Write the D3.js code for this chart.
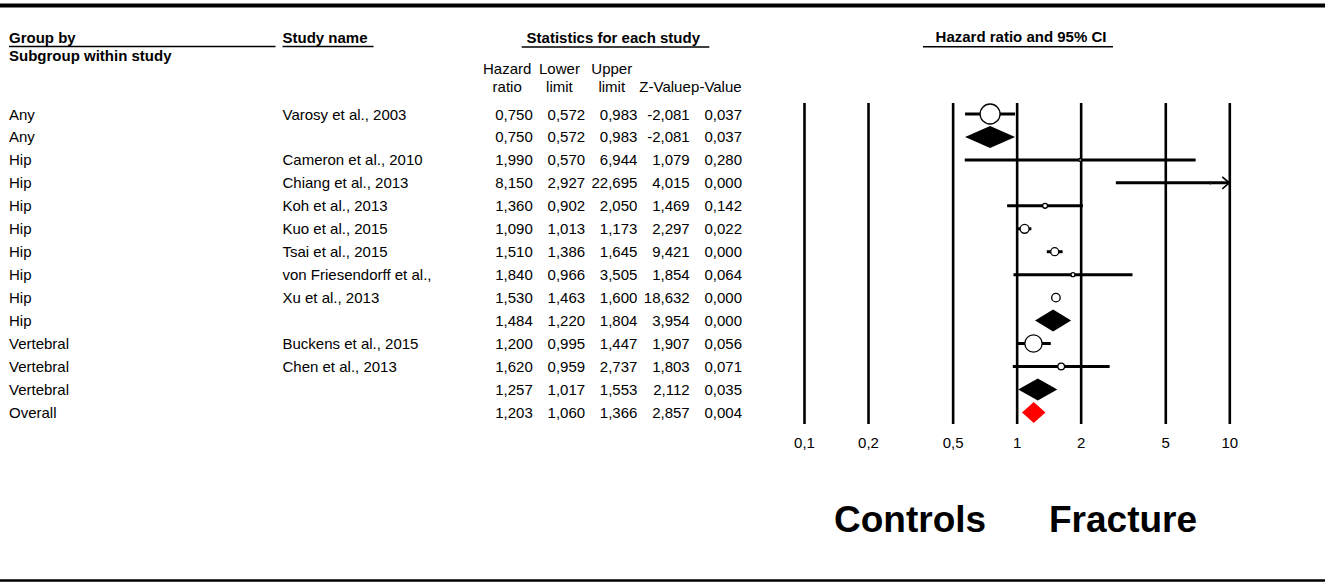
<!DOCTYPE html>
<html>
<head>
<meta charset="utf-8">
<script src="https://cdn.jsdelivr.net/npm/d3@7"></script>
<style>
  html, body { margin: 0; padding: 0; background: #fff; }
  svg { display: block; font-family: "Liberation Sans", Arial, sans-serif; }
</style>
</head>
<body>
<svg id="chart" width="1325" height="582"></svg>
<script>
// ---------- data ----------
const groups = ["Any","Any","Hip","Hip","Hip","Hip","Hip","Hip","Hip","Hip","Vertebral","Vertebral","Vertebral","Overall"];
const studies = ["Varosy et al., 2003","","Cameron et al., 2010","Chiang et al., 2013","Koh et al., 2013","Kuo et al., 2015","Tsai et al., 2015","von Friesendorff et al.,","Xu et al., 2013","","Buckens et al., 2015","Chen et al., 2013","",""];
const rowTypes = ["study","subgroup","study","study","study","study","study","study","study","subgroup","study","study","subgroup","overall"];
const hazard = [0.750,0.750,1.990,8.150,1.360,1.090,1.510,1.840,1.530,1.484,1.200,1.620,1.257,1.203];
const lower  = [0.572,0.572,0.570,2.927,0.902,1.013,1.386,0.966,1.463,1.220,0.995,0.959,1.017,1.060];
const upper  = [0.983,0.983,6.944,22.695,2.050,1.173,1.645,3.505,1.600,1.804,1.447,2.737,1.553,1.366];
const zValue = [-2.081,-2.081,1.079,4.015,1.469,2.297,9.421,1.854,18.632,3.954,1.907,1.803,2.112,2.857];
const pValue = [0.037,0.037,0.280,0.000,0.142,0.022,0.000,0.064,0.000,0.000,0.056,0.071,0.035,0.004];
// relative study weights (marker area)
const weights = [100,0,2,1,6,20,16,4,18,0,75,11,0,0];
const tickValues = [0.1,0.2,0.5,1,2,5,10];
const statHeaders1 = ["Hazard","Lower","Upper","",""];
const statHeaders2 = ["ratio","limit","limit","Z-Value","p-Value"];

// ---------- setup ----------
const W = 1325, H = 582;
const FS = 15;
const svg = d3.select("#chart");
const loc = d3.formatLocale({decimal: ",", thousands: ".", grouping: [3], currency: ["", ""], minus: "-"});
const f3 = loc.format(".3f");
const fTick = v => String(v).replace(".", ",");

const x = d3.scaleLog().domain([0.1, 10]).range([804, 1229.3]);
const rows = d3.range(groups.length);
const y = d3.scalePoint().domain(rows).range([114, 412.4]);
const plotTop = 103, plotBottom = 424;
const rScale = d3.scaleSqrt().domain([0, 100]).range([0, 10]);
const cols = d3.scaleBand().domain(d3.range(5)).range([481, 742.5]);

// top & bottom rules
svg.append("line").attr("x1", 0).attr("x2", W).attr("y1", 5.5).attr("y2", 5.5)
  .attr("stroke", "#000").attr("stroke-width", 4);
svg.append("line").attr("x1", 0).attr("x2", W).attr("y1", 580.5).attr("y2", 580.5)
  .attr("stroke", "#000").attr("stroke-width", 2.5);

// ---------- headers ----------
const hdr = svg.append("g").attr("font-weight", "bold").attr("font-size", FS).attr("fill", "#000");
hdr.append("text").attr("x", 9).attr("y", 43.3).text("Group by");
hdr.append("text").attr("x", 9).attr("y", 61).text("Subgroup within study");
hdr.append("text").attr("x", 282.5).attr("y", 43.3).text("Study name");
hdr.append("text").attr("x", 613.3).attr("y", 43.3).attr("text-anchor", "middle").text("Statistics for each study");
hdr.append("text").attr("x", 1021).attr("y", 42).attr("text-anchor", "middle").text("Hazard ratio and 95% CI");

const ul = [[9, 275.5, 46.5], [282.5, 373.5, 46.5], [521.7, 709.3, 47], [923, 1113, 46.7]];
svg.append("g").selectAll("line").data(ul).join("line")
  .attr("x1", d => d[0]).attr("x2", d => d[1]).attr("y1", d => d[2]).attr("y2", d => d[2])
  .attr("stroke", "#000").attr("stroke-width", 1.4);

const sh = svg.append("g").attr("font-size", FS).attr("fill", "#000").attr("text-anchor", "middle");
sh.selectAll("text.h1").data(statHeaders1).join("text").attr("class", "h1")
  .attr("x", (d, i) => cols(i) + cols.bandwidth() / 2).attr("y", 74).text(d => d);
sh.selectAll("text.h2").data(statHeaders2).join("text").attr("class", "h2")
  .attr("x", (d, i) => cols(i) + cols.bandwidth() / 2 + (i === 3 ? 1 : 0)).attr("y", 92).text(d => d);

// ---------- table rows ----------
const tb = svg.append("g").attr("font-size", FS).attr("fill", "#000");
tb.selectAll("text.grp").data(rows).join("text").attr("class", "grp")
  .attr("x", 9).attr("y", i => y(i) + 5.5).text(i => groups[i]);
tb.selectAll("text.std").data(rows).join("text").attr("class", "std")
  .attr("x", 282.5).attr("y", i => y(i) + 5.5).text(i => studies[i]);

const statCols = [hazard, lower, upper, zValue, pValue];
statCols.forEach((arr, c) => {
  tb.append("g").attr("text-anchor", "end").selectAll("text").data(rows).join("text")
    .attr("x", cols(c) + cols.bandwidth() - 0.5)
    .attr("y", i => y(i) + 5.5)
    .text(i => f3(arr[i]));
});

// ---------- plot ----------
const axis = d3.axisBottom(x).tickValues(tickValues).tickFormat(fTick)
  .tickSizeInner(-(plotBottom - plotTop)).tickSizeOuter(0).tickPadding(13);
const ax = svg.append("g").attr("transform", `translate(0,${plotBottom})`).call(axis);
ax.select(".domain").remove();
ax.selectAll(".tick line").attr("stroke", "#000").attr("stroke-width", 2.6);
ax.selectAll(".tick text").attr("fill", "#000").attr("font-size", FS)
  .attr("font-family", "'Liberation Sans', Arial, sans-serif");

const xMax = 10;
const studyRows = rows.filter(i => rowTypes[i] === "study");
const plt = svg.append("g");
// CI lines
plt.selectAll("line.ci").data(studyRows).join("line").attr("class", "ci")
  .attr("x1", i => x(Math.max(lower[i], 0.1)))
  .attr("x2", i => x(Math.min(upper[i], xMax)))
  .attr("y1", i => y(i)).attr("y2", i => y(i))
  .attr("stroke", "#000").attr("stroke-width", 3);
// arrows for clipped CIs
plt.selectAll("path.arrow").data(studyRows.filter(i => upper[i] > xMax)).join("path").attr("class", "arrow")
  .attr("d", i => {
    const xe = x(xMax), yy = y(i);
    return `M${xe - 7},${yy - 6} L${xe},${yy} L${xe - 7},${yy + 6}`;
  })
  .attr("fill", "none").attr("stroke", "#000").attr("stroke-width", 1.6);
// markers
plt.selectAll("circle.pt").data(studyRows.filter(i => hazard[i] <= xMax)).join("circle").attr("class", "pt")
  .attr("cx", i => x(hazard[i])).attr("cy", i => y(i))
  .attr("r", i => rScale(weights[i]))
  .attr("fill", "#fff").attr("stroke", "#000").attr("stroke-width", 1.3);
// diamonds
const summaryRows = rows.filter(i => rowTypes[i] !== "study");
plt.selectAll("path.dia").data(summaryRows).join("path").attr("class", "dia")
  .attr("d", i => {
    const yy = y(i), h = rowTypes[i] === "overall" ? 10.5 : 11;
    return `M${x(lower[i])},${yy} L${x(hazard[i])},${yy - h} L${x(upper[i])},${yy} L${x(hazard[i])},${yy + h} Z`;
  })
  .attr("fill", i => rowTypes[i] === "overall" ? "#ff0000" : "#000");

// ---------- favours labels ----------
const fl = svg.append("g").attr("font-size", 37).attr("font-weight", "bold").attr("fill", "#000");
fl.append("text").attr("x", 834).attr("y", 532).text("Controls");
fl.append("text").attr("x", 1049).attr("y", 532).text("Fracture");
</script>
</body>
</html>
